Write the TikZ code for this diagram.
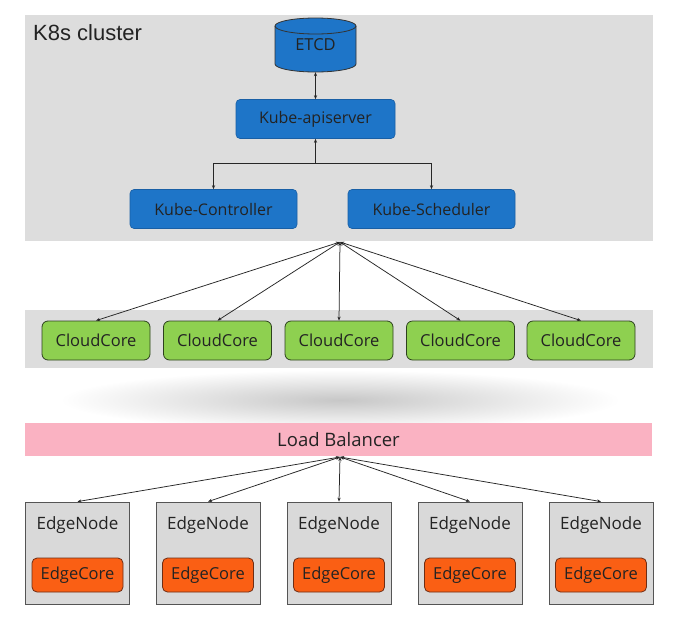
\documentclass[tikz,border=0pt]{standalone}
\usepackage{fontspec}
\setmainfont{Open Sans}
\newfontfamily\arialf{Liberation Sans}
\usetikzlibrary{arrows.meta}
\definecolor{panelgray}{RGB}{221,221,221}
\definecolor{kblue}{RGB}{30,117,200}
\definecolor{kblueb}{RGB}{25,95,165}
\definecolor{cgreen}{RGB}{142,208,80}
\definecolor{cgreenb}{RGB}{45,65,30}
\definecolor{eorange}{RGB}{250,95,20}
\definecolor{eorangeb}{RGB}{110,45,20}
\definecolor{lbpink}{RGB}{250,178,194}
\definecolor{egray}{RGB}{217,217,217}
\definecolor{egrayb}{RGB}{85,85,85}
\definecolor{txtdark}{RGB}{35,35,35}
\tikzset{
  panel/.style={fill=panelgray, draw=none},
  bluebox/.style={fill=kblue, draw=kblueb, line width=0.6pt, rounded corners=4pt,
    minimum width=#1, minimum height=39, inner sep=0pt, text=txtdark,
    font=\fontsize{16}{18}\selectfont},
  ccbox/.style={fill=cgreen, draw=cgreenb, line width=0.8pt, rounded corners=6pt,
    minimum width=108, minimum height=39, inner sep=0pt, text=txtdark,
    font=\fontsize{16.5}{18}\selectfont},
  enbox/.style={fill=egray, draw=egrayb, line width=0.8pt,
    minimum width=104, minimum height=102, inner sep=0pt},
  ecbox/.style={fill=eorange, draw=eorangeb, line width=0.8pt, rounded corners=5pt,
    minimum width=91, minimum height=34, inner sep=0pt, text=txtdark,
    font=\fontsize{16.5}{18}\selectfont},
  enlabel/.style={text=txtdark, inner sep=0pt, font=\fontsize{17}{19}\selectfont},
  conn/.style={draw=black!85, line width=0.75pt},
  tip/.style={-{Stealth[length=4pt,width=3.2pt]}},
  tips/.style={{Stealth[length=4pt,width=3.2pt]}-{Stealth[length=4pt,width=3.2pt]}},
}
\begin{document}
\begin{tikzpicture}[x=1pt,y=-1pt]
\useasboundingbox[fill=white] (0,0) rectangle (674,616);
% K8s cluster panel
\node[panel, minimum width=628, minimum height=226, inner sep=0pt] (k8s) at (339,128) {};
\node[anchor=west, inner sep=0pt, text=txtdark, font=\arialf\fontsize{22}{24}\selectfont] (k8slabel) at (33,33) {K8s cluster};
% ETCD cylinder
\path[fill=kblue, draw=black!80, line width=0.8pt]
  (275,26) -- (275,64) arc[start angle=180, end angle=0, x radius=40.5, y radius=8]
  -- (356,26) arc[start angle=0, end angle=-180, x radius=40.5, y radius=8] -- cycle;
\draw[black!80, line width=0.8pt] (275,26) arc[start angle=180, end angle=0, x radius=40.5, y radius=8];
\node[minimum width=81, minimum height=54, inner sep=0pt, text=txtdark,
  font=\fontsize{16.5}{18}\selectfont] (etcd) at (315.5,45) {\raisebox{-4pt}{ETCD}};
\node[bluebox=159] (api) at (315.5,119) {Kube-apiserver};
\node[bluebox=167] (ctrl) at (213.5,209) {Kube-Controller};
\node[bluebox=167] (sched) at (431.5,209) {Kube-Scheduler};
\draw[conn, tips] (etcd.south) -- (api.north);
\coordinate (j) at (315.5,163);
\draw[conn, tip] (j) -- (api.south);
\draw[conn, tip] (j) -| (ctrl.north);
\draw[conn, tip] (j) -| (sched.north);
% CloudCore panel
\node[panel, minimum width=628, minimum height=58, inner sep=0pt] (ccpanel) at (339,339) {};
\node[ccbox] (cc1) at (96,340.5) {CloudCore};
\node[ccbox] (cc2) at (217.5,340.5) {CloudCore};
\node[ccbox] (cc3) at (339,340.5) {CloudCore};
\node[ccbox] (cc4) at (460.5,340.5) {CloudCore};
\node[ccbox] (cc5) at (581,340.5) {CloudCore};
\coordinate (hub) at (340,242);
\foreach \n in {cc1,cc2,cc3,cc4,cc5} \draw[conn, tips] (hub) -- (\n.north);
% shadow
\begin{scope}
\clip (25,368) rectangle (653,423);
\shade[inner color=black!22, outer color=white] (340,400) ellipse (280 and 30);
\end{scope}
% Load balancer
\node[fill=lbpink, draw=none, minimum width=627, minimum height=33, inner sep=0pt, text=txtdark,
  font=\fontsize{18.5}{20}\selectfont] (lb) at (338.5,439.5) {Load Balancer};
\coordinate (hub2) at (340,457);
% Edge nodes
\foreach \i/\x in {1/77.5,2/208,3/339,4/470,5/601}{
  \node[enbox] (en\i) at (\x,553) {};
  \node[enlabel] (enl\i) at (\x,525) {EdgeNode};
  \node[ecbox] (ec\i) at (\x,575) {EdgeCore};
}
\foreach \n in {en1,en2,en3,en4,en5} \draw[conn, tips] (hub2) -- (\n.north);
\end{tikzpicture}
\end{document}
